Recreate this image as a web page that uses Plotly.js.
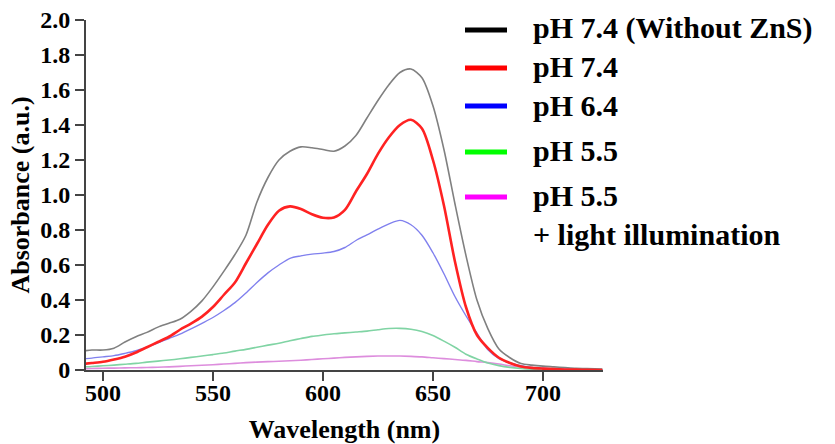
<!DOCTYPE html>
<html>
<head>
<meta charset="utf-8">
<script src="https://cdn.plot.ly/plotly-3.0.1.min.js"></script>
<style>html,body{margin:0;padding:0;background:#fff;}#chart{width:835px;height:444px;}</style>
</head>
<body>
<div id="chart"></div>
<script>
// Wavelength grid (nm)
var wavelength = [492,495,500,505,510,515,520,525,530,535,540,545,550,555,560,565,570,575,580,585,590,595,600,605,610,615,620,625,630,635,640,645,650,655,660,665,670,675,680,685,690,695,700,705,710,715,720,727];

var pH74NoZnS = [0.11,0.114,0.114,0.125,0.16,0.19,0.215,0.245,0.267,0.29,0.335,0.395,0.475,0.565,0.66,0.77,0.96,1.10,1.20,1.25,1.275,1.27,1.26,1.25,1.28,1.34,1.44,1.54,1.63,1.70,1.72,1.67,1.51,1.26,0.95,0.655,0.40,0.235,0.12,0.07,0.037,0.028,0.022,0.018,0.014,0.01,0.008,0.005];

var pH74 = [0.036,0.04,0.047,0.06,0.076,0.10,0.13,0.16,0.19,0.23,0.265,0.305,0.36,0.43,0.50,0.61,0.72,0.83,0.91,0.935,0.92,0.89,0.87,0.872,0.915,1.02,1.12,1.235,1.33,1.40,1.43,1.38,1.20,0.94,0.62,0.36,0.20,0.125,0.07,0.04,0.02,0.012,0.008,0.005,0.003,0.002,0.001,0.0];

var pH64 = [0.065,0.068,0.075,0.082,0.095,0.11,0.13,0.155,0.18,0.205,0.235,0.267,0.30,0.34,0.385,0.44,0.50,0.555,0.60,0.638,0.652,0.662,0.668,0.677,0.70,0.74,0.772,0.805,0.835,0.855,0.83,0.77,0.67,0.55,0.42,0.31,0.21,0.115,0.065,0.04,0.025,0.015,0.01,0.007,0.005,0.004,0.003,0.002];

var pH55 = [0.018,0.02,0.024,0.028,0.033,0.038,0.045,0.051,0.057,0.064,0.072,0.08,0.088,0.097,0.108,0.118,0.13,0.142,0.153,0.167,0.18,0.192,0.2,0.207,0.212,0.217,0.222,0.23,0.237,0.238,0.233,0.22,0.197,0.165,0.13,0.09,0.063,0.04,0.025,0.015,0.009,0.005,0.003,0.002,0.001,0.001,0.0,0.0];

var pH55Light = [0.008,0.009,0.01,0.011,0.012,0.013,0.014,0.016,0.018,0.021,0.024,0.027,0.03,0.034,0.038,0.042,0.045,0.048,0.05,0.053,0.056,0.06,0.064,0.068,0.072,0.075,0.078,0.08,0.08,0.08,0.078,0.075,0.07,0.065,0.06,0.055,0.048,0.042,0.034,0.024,0.016,0.011,0.008,0.006,0.004,0.003,0.002,0.001];

var seriesNames = ['pH 7.4 (Without ZnS)','pH 7.4','pH 6.4','pH 5.5','pH 5.5<br>+ light illumination'];
var xTickVals = [500,550,600,650,700];
var yTickVals = [0,0.2,0.4,0.6,0.8,1.0,1.2,1.4,1.6,1.8,2.0];
var yTickText = ['0','0.2','0.4','0.6','0.8','1.0','1.2','1.4','1.6','1.8','2.0'];

var seriesData = [pH74NoZnS, pH74, pH64, pH55, pH55Light];
var curveColors = ['#808080','#ff2222','#8080ee','#80d4a4','#dd8ddd'];
var curveWidths = [1.6,2.6,1.4,1.6,1.6];
var legendColors = ['#000000','#ff0000','#0000ff','#00ff00','#ff00ff'];

var serif = '"Liberation Serif", "Times New Roman", Times, serif';
var traces = [];
var drawOrder = [4,3,2,0,1];
drawOrder.forEach(function(i){
  traces.push({x: wavelength, y: seriesData[i], type:'scatter', mode:'lines', name: seriesNames[i],
    line:{color: curveColors[i], width: curveWidths[i], shape:'spline', smoothing:0.8},
    showlegend:false, hoverinfo:'skip'});
});

// Legend drawn in paper coordinates (layout decoration)
var plotL = 86, plotW = 517, plotB = 370, plotH = 350;
function px2x(p){ return (p - plotL) / plotW; }
function py2y(p){ return (plotB - p) / plotH; }
var legendRowY = [28, 66, 105, 150, 214.5];
var legendLineY = [30, 68, 106, 152, 197];
var shapes = [], annotations = [];
for (var k = 0; k < 5; k++){
  shapes.push({type:'line', xref:'paper', yref:'paper', x0: px2x(465), x1: px2x(507), y0: py2y(legendLineY[k]), y1: py2y(legendLineY[k]),
    line:{color: legendColors[k], width:5}});
  annotations.push({xref:'paper', yref:'paper', x: px2x(531), y: py2y(legendRowY[k]), xanchor:'left', yanchor:'middle',
    align:'left', showarrow:false, text: seriesNames[k],
    font:{family: serif, size:30, color:'#000', weight:'bold'}});
}

var layout = {
  width:835, height:444,
  margin:{l:86, r:232, t:20, b:74},
  paper_bgcolor:'#fff', plot_bgcolor:'#fff',
  showlegend:false,
  font:{family: serif, color:'#000', weight:'bold'},
  xaxis:{range:[492.3,727.3], tickvals: xTickVals, ticks:'outside', ticklen:9, tickwidth:2, tickcolor:'#444',
    showline:true, linecolor:'#444', linewidth:2, showgrid:false, zeroline:false, ticklabelstandoff:-9,
    tickfont:{family: serif, size:24, color:'#000', weight:'bold'},
    title:{text:'Wavelength (nm)', font:{family: serif, size:26, color:'#000', weight:'bold'}, standoff:21}},
  yaxis:{range:[0,2.0], tickvals: yTickVals, ticktext: yTickText, ticks:'outside', ticklen:9, tickwidth:2, tickcolor:'#444',
    showline:true, linecolor:'#444', linewidth:2, showgrid:false, zeroline:false,
    tickfont:{family: serif, size:24, color:'#000', weight:'bold'},
    title:{text:'Absorbance (a.u.)', font:{family: serif, size:26, color:'#000', weight:'bold'}, standoff:3}},
  shapes: shapes,
  annotations: annotations
};
Plotly.newPlot('chart', traces, layout, {staticPlot:true, displayModeBar:false});
</script>
</body>
</html>
